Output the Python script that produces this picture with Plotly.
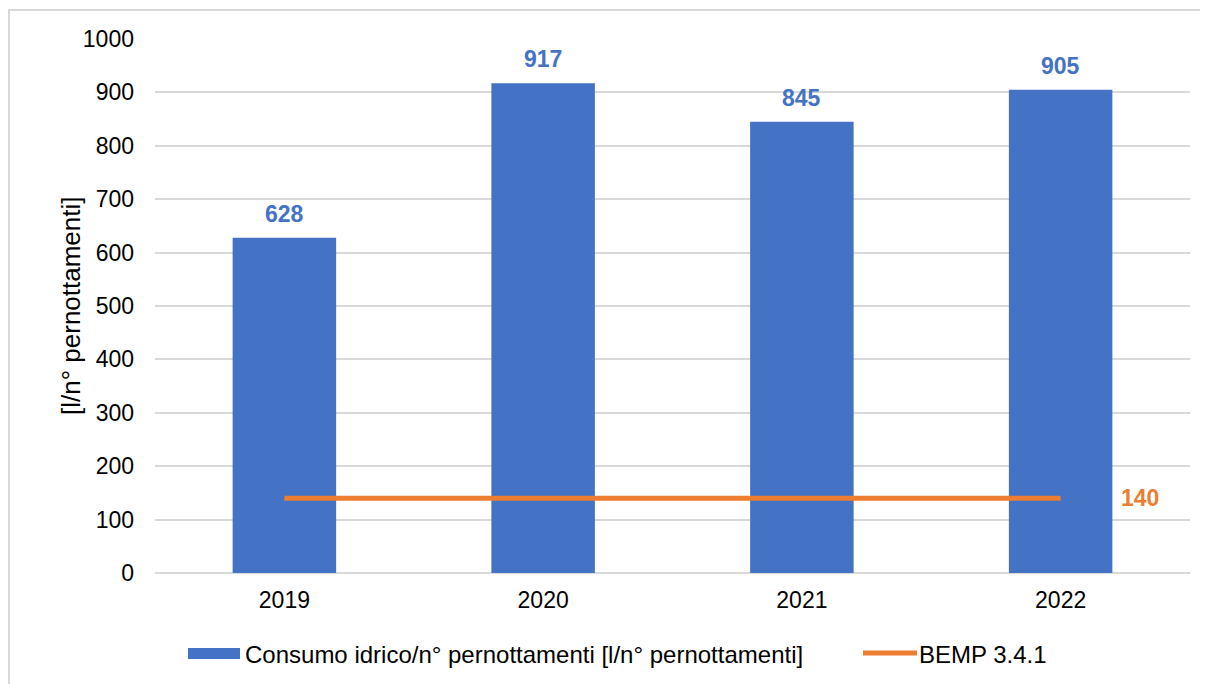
import plotly.graph_objects as go

years = ["2019", "2020", "2021", "2022"]
consumo = [628, 917, 845, 905]
bemp = [140, 140, 140, 140]
yticks = [0, 100, 200, 300, 400, 500, 600, 700, 800, 900, 1000]

BLUE = "#4472C4"
ORANGE = "#ED7D31"
FONT = "Liberation Sans, Arial, sans-serif"
BAR_NAME = "Consumo idrico/n° pernottamenti [l/n° pernottamenti]"
LINE_NAME = "BEMP 3.4.1"

# page body has an 8px margin, so the figure is shifted by 8px on screen
OFF = 8
W, H = 1208 - OFF, 684 - OFF
ml, mt = 155 - OFF, 39 - OFF
pw, ph = 1035, 534
mr, mb = W - ml - pw, H - mt - ph


def px(x):  # screen pixel x -> paper
    return (x - 155) / pw


def py(y):  # screen pixel y -> paper
    return (573 - y) / ph


fig = go.Figure()
fig.add_trace(go.Bar(
    x=years, y=consumo, name=BAR_NAME, showlegend=False,
    marker=dict(color=BLUE, line=dict(width=0)),
))
fig.add_trace(go.Scatter(
    x=years, y=bemp, name=LINE_NAME, mode="lines", showlegend=False,
    line=dict(color=ORANGE, width=5),
))

# bar value labels
for i, v in enumerate(consumo):
    fig.add_annotation(
        x=i, y=v, xref="x", yref="y", text=f"<b>{v}</b>", showarrow=False,
        yanchor="bottom", yshift=9, font=dict(color=BLUE, size=23, family=FONT),
    )
# line value label
fig.add_annotation(
    x=len(years) - 1, y=bemp[-1], xref="x", yref="y", text=f"<b>{bemp[-1]}</b>",
    showarrow=False, xshift=79, font=dict(color=ORANGE, size=23, family=FONT),
)

# y axis title
fig.add_annotation(
    x=px(71), y=0.5, xref="paper", yref="paper", text="[l/n° pernottamenti]",
    textangle=-90, showarrow=False, xanchor="center", yanchor="middle",
    font=dict(size=26, family=FONT, color="#000000"),
)

# chart border
fig.add_shape(
    type="rect", xref="paper", yref="paper",
    x0=px(9), x1=px(1215), y0=py(690), y1=py(10),
    line=dict(color="#D9D9D9", width=2), fillcolor="rgba(0,0,0,0)", layer="below",
)

# manual legend
fig.add_shape(type="rect", xref="paper", yref="paper",
              x0=px(188), x1=px(240), y0=py(659), y1=py(648),
              line=dict(width=0), fillcolor=BLUE)
fig.add_annotation(x=px(243), y=py(654), xref="paper", yref="paper", text=BAR_NAME,
                   showarrow=False, xanchor="left", yanchor="middle",
                   font=dict(size=24, family=FONT, color="#000000"))
fig.add_shape(type="line", xref="paper", yref="paper",
              x0=px(863), x1=px(917), y0=py(653), y1=py(653),
              line=dict(color=ORANGE, width=5))
fig.add_annotation(x=px(917), y=py(654), xref="paper", yref="paper", text=LINE_NAME,
                   showarrow=False, xanchor="left", yanchor="middle",
                   font=dict(size=24, family=FONT, color="#000000"))

fig.update_layout(
    width=W, height=H,
    margin=dict(l=ml, r=mr, t=mt, b=mb, autoexpand=False),
    paper_bgcolor="white", plot_bgcolor="white",
    font=dict(family=FONT, size=23, color="#000000"),
    bargap=0.6,
    showlegend=False,
    xaxis=dict(type="category", range=[-0.5, len(years) - 0.5], showgrid=False,
               showline=False, ticks="", tickfont=dict(size=23), automargin=False,
               ticklabelstandoff=11),
    yaxis=dict(range=[0, 1000], tickvals=yticks, showgrid=True, gridcolor="#D9D9D9",
               gridwidth=1.5, zeroline=True, zerolinecolor="#D9D9D9", zerolinewidth=1.5,
               ticks="", tickfont=dict(size=23), automargin=False, ticklabelstandoff=20),
)

fig.write_html("out.html")
